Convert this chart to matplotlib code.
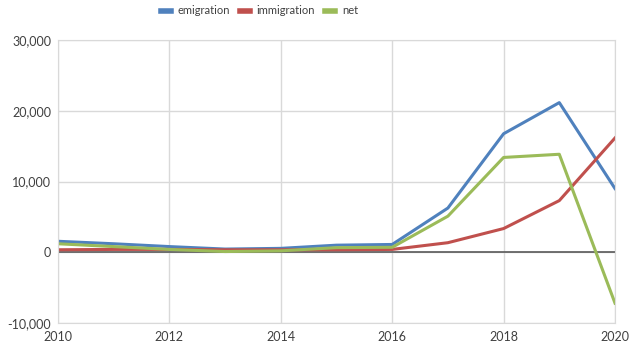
import matplotlib

matplotlib.use("Agg")
import matplotlib.pyplot as plt
from matplotlib.ticker import FuncFormatter

years = list(range(2010, 2021))
emigration = [1550, 1200, 800, 450, 550, 1000, 1100, 6250, 16750, 21150, 9000]
immigration = [350, 400, 400, 350, 350, 350, 400, 1350, 3350, 7300, 16150]
net = [1200, 800, 400, 100, 200, 650, 700, 5100, 13400, 13850, -7200]

plt.rcParams["font.family"] = ["Lato", "DejaVu Sans"]

fig = plt.figure(figsize=(6.3, 3.47), dpi=100)
ax = fig.add_axes([58 / 630, 1 - 323 / 347, 557 / 630, 283 / 347])

ax.plot(years, emigration, color="#4F81BD", lw=2.2, label="emigration")
ax.plot(years, immigration, color="#C0504D", lw=2.2, label="immigration")
ax.plot(years, net, color="#9BBB59", lw=2.2, label="net")
ax.axhline(0, color="#595959", lw=1.2, zorder=1)

ax.set_xlim(2010, 2020)
ax.set_ylim(-10000, 30000)
ax.set_xticks(range(2010, 2021, 2))
ax.set_yticks(range(-10000, 30001, 10000))
ax.yaxis.set_major_formatter(FuncFormatter(lambda v, p: f"{int(v):,}"))
ax.grid(color="#D9D9D9", lw=1)
ax.set_axisbelow(True)
for s in ax.spines.values():
    s.set_color("#D9D9D9")
ax.tick_params(length=0, labelsize=9, colors="#404040", pad=5)
ax.tick_params(axis="x", pad=6)

leg = fig.legend(loc="center left", bbox_to_anchor=(161 / 630, 1 - 11 / 347),
                 ncol=3, frameon=False, fontsize=8, handlelength=0.9,
                 columnspacing=0.9, labelcolor="#404040", handletextpad=0.6,
                 borderaxespad=0, borderpad=0)
for h in leg.legend_handles:
    h.set_linewidth(4)
fig.savefig("out.png")
